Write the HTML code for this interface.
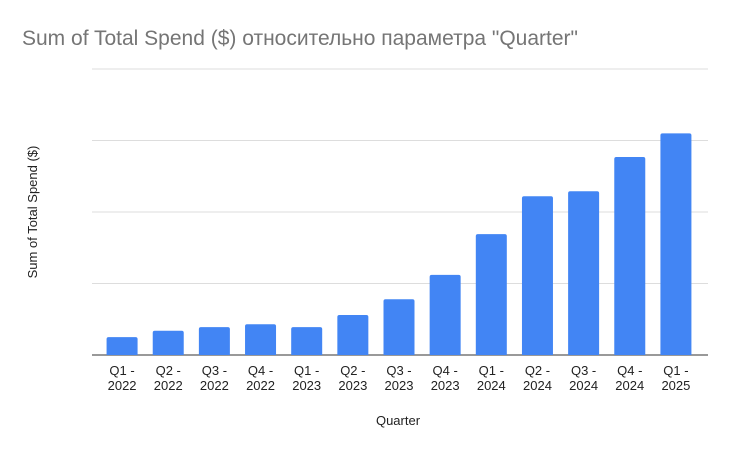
<!DOCTYPE html>
<html><head><meta charset="utf-8"><style>
body{margin:0;background:#fff;}
svg text{font-family:"Liberation Sans",Arial,sans-serif;}
</style></head><body>
<svg id="chart" width="730" height="451" viewBox="0 0 730 451" xmlns="http://www.w3.org/2000/svg">
<rect width="730" height="451" fill="#fff"/>
<text x="22" y="45" font-size="21" fill="#757575">Sum of Total Spend ($) относительно параметра "Quarter"</text>
<text transform="translate(37,212) rotate(-90)" text-anchor="middle" font-size="13" fill="#222">Sum of Total Spend ($)</text>
<text x="398" y="425" text-anchor="middle" font-size="13" fill="#222">Quarter</text>
<g id="grid"></g><g id="bars"></g><g id="labels"></g>
</svg>
<script>
const categories = ["Q1 - 2022","Q2 - 2022","Q3 - 2022","Q4 - 2022","Q1 - 2023","Q2 - 2023","Q3 - 2023","Q4 - 2023","Q1 - 2024","Q2 - 2024","Q3 - 2024","Q4 - 2024","Q1 - 2025"];
const values = [0.25,0.34,0.39,0.43,0.39,0.56,0.78,1.12,1.69,2.22,2.29,2.77,3.10];
const gridValues = [0,1,2,3,4];
const NS="http://www.w3.org/2000/svg";
const x0=99,x1=699,yBase=355,yTop=69,yMax=4,barW=31;
const band=(x1-x0)/categories.length;
const xC=i=>x0+band*(i+0.5);
const y=v=>yBase-(yBase-yTop)*v/yMax;
const grid=document.getElementById('grid'),bars=document.getElementById('bars'),labels=document.getElementById('labels');
gridValues.forEach(g=>{
  const l=document.createElementNS(NS,'line');
  
  
  l.setAttribute('x1',92);l.setAttribute('x2',708);
  l.setAttribute('y1',y(g));l.setAttribute('y2',y(g));
  l.setAttribute('stroke',g===0?'#333':'#ddd');l.setAttribute('stroke-width',1);
  grid.appendChild(l);
});
categories.forEach((c,i)=>{
  const r=document.createElementNS(NS,'path');
  
  
  const xl=xC(i)-barW/2,yt=y(values[i]),rd=2;
  r.setAttribute('d',`M${xl},${yBase}V${yt+rd}Q${xl},${yt} ${xl+rd},${yt}H${xl+barW-rd}Q${xl+barW},${yt} ${xl+barW},${yt+rd}V${yBase}Z`);
  r.setAttribute('fill','#4285f4');
  bars.appendChild(r);
  const parts=c.split(' - ');
  const t=document.createElementNS(NS,'text');
  
  
  t.setAttribute('text-anchor','middle');t.setAttribute('font-size','13');t.setAttribute('fill','#222');
  const a=document.createElementNS(NS,'tspan');a.setAttribute('x',xC(i));a.setAttribute('y',375);a.textContent=parts[0]+' -';
  const b=document.createElementNS(NS,'tspan');b.setAttribute('x',xC(i));b.setAttribute('y',390);b.textContent=parts[1];
  t.appendChild(a);t.appendChild(b);labels.appendChild(t);
});
</script>
</body></html>
